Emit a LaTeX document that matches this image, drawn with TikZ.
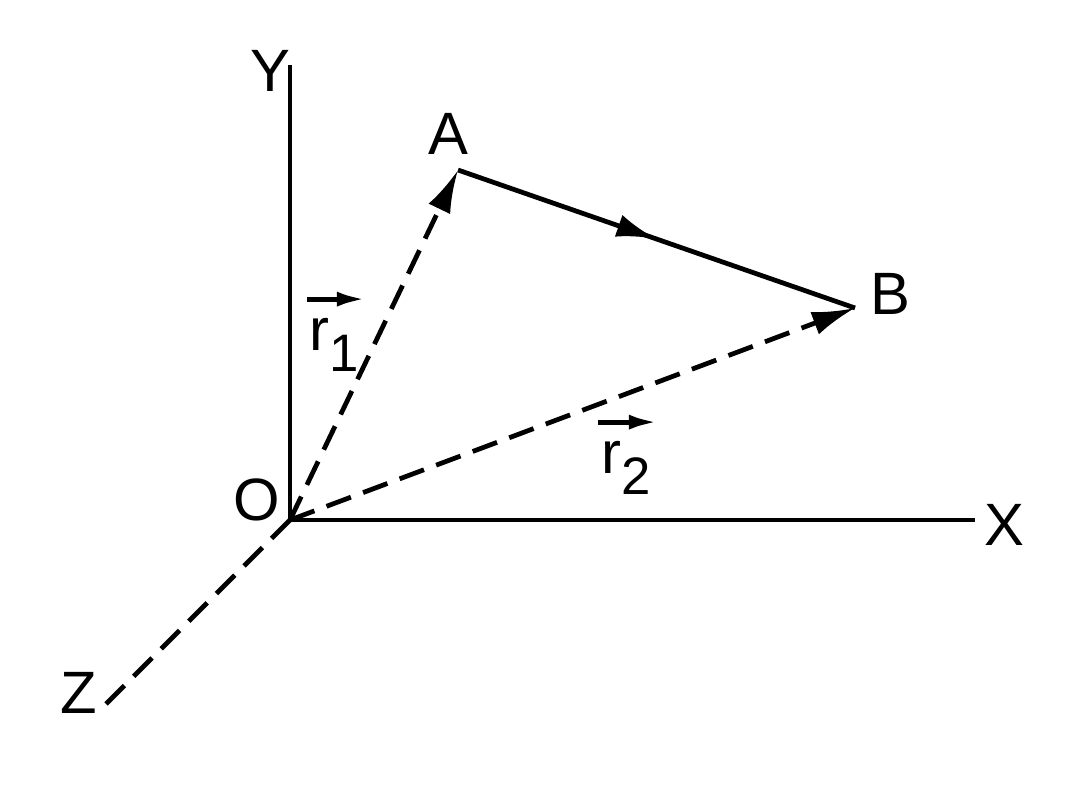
\documentclass[tikz,border=0pt]{standalone}
\usepackage{fontspec}
\setmainfont{Liberation Sans}
\usetikzlibrary{arrows.meta, positioning, calc, decorations.markings}
\tikzstyle{axis} = [line width=1.35pt]
\tikzstyle{dline} = [line width=1.35pt, dash pattern=on 2.6mm off 1.3mm]
\tikzstyle{vtip} = [-{Latex[length=4.3mm, width=2.4mm]}]
\tikzstyle{vecarr} = [line width=1.35pt, -{Latex[length=2.8mm, width=1.5mm]}]
\tikzstyle{midtip} = [postaction={decorate}, decoration={markings, mark=at position 0.5 with {\arrow{Latex[length=4mm, width=2.3mm]}}}]
\tikzstyle{lbl} = [inner sep=0pt, font=\fontsize{17}{20}\selectfont]
\newcommand{\vecsub}[1]{r\raisebox{-6pt}{\fontsize{15}{18}\selectfont #1}}

\begin{document}
\begin{tikzpicture}[x=0.01cm, y=-0.01cm]
\useasboundingbox (0,0) rectangle (1080,809);

\coordinate (O) at (290,520);
\coordinate (Yend) at (290,65);
\coordinate (Xend) at (975,520);
\coordinate (Zend) at (105,705);
\coordinate (A) at (458,170);
\coordinate (B) at (855,308);

\node (ylbl) [lbl] at (270,71) {Y};
\node (xlbl) [lbl] at (1004,525) {X};
\node (zlbl) [lbl] at (79,693) {Z};
\node (olbl) [lbl] at (257,500) {O};
\node (albl) [lbl] at (448,134) {A};
\node (blbl) [lbl] at (890,294) {B};

\draw [axis] (Yend) -- (O) -- (Xend);
\draw [dline] (O) -- (Zend);
\draw [dline, vtip] (O) -- (A);
\draw [dline, vtip] (O) -- (B);
\draw [axis, midtip] (A) -- (B);

\node (r1) [lbl, anchor=base west] at (309,350) {\vecsub{1}};
\node (r2) [lbl, anchor=base west] at (601,473) {\vecsub{2}};
\draw [vecarr] ([xshift=-0.02cm, yshift=0.18cm]r1.north west) -- ++(58,0);
\draw [vecarr] ([xshift=-0.03cm, yshift=0.18cm]r2.north west) -- ++(59,0);

\end{tikzpicture}
\end{document}
